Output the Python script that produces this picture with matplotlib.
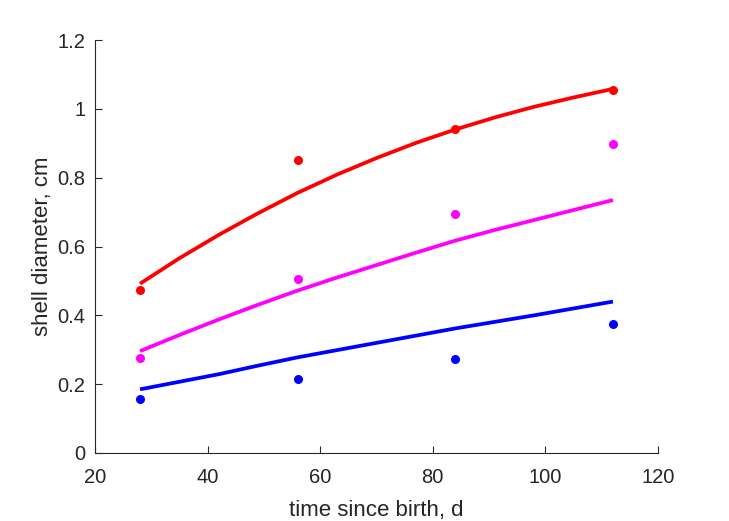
import matplotlib
matplotlib.use("Agg")
import matplotlib.pyplot as plt

# Measured shell diameters (cm) at each age (d)
t_obs = [28, 56, 84, 112]
red_obs = [0.473, 0.850, 0.941, 1.054]
magenta_obs = [0.277, 0.506, 0.693, 0.899]
blue_obs = [0.156, 0.214, 0.272, 0.374]

# Fitted growth curves
t_fit = [28, 35, 42, 49, 56, 63, 70, 77, 84, 91, 98, 105, 112]
red_fit = [0.492, 0.566, 0.634, 0.697, 0.756, 0.809, 0.857,
           0.901, 0.940, 0.975, 1.006, 1.033, 1.058]
magenta_fit = [0.296, 0.343, 0.388, 0.431, 0.472, 0.510, 0.546,
               0.582, 0.617, 0.648, 0.677, 0.706, 0.735]
blue_fit = [0.185, 0.207, 0.229, 0.254, 0.278, 0.299, 0.320,
            0.341, 0.362, 0.381, 0.400, 0.420, 0.440]

xticks = [20, 40, 60, 80, 100, 120]
yticks = [0, 0.2, 0.4, 0.6, 0.8, 1.0, 1.2]
yticklabels = ["0", "0.2", "0.4", "0.6", "0.8", "1", "1.2"]

plt.rcParams["font.family"] = ["Liberation Sans", "DejaVu Sans"]
axcol = (0.15, 0.15, 0.15)

fig = plt.figure(figsize=(7.29, 5.21), dpi=100)
ax = fig.add_axes([95 / 729, 68 / 521, 563 / 729, 413 / 521])

series = [(red_obs, red_fit, (1, 0, 0)),
          (magenta_obs, magenta_fit, (1, 0, 1)),
          (blue_obs, blue_fit, (0, 0, 1))]
for obs, fit, c in series:
    ax.plot(t_obs, obs, "o", color=c, markersize=6.5, markeredgewidth=0)
    ax.plot(t_fit, fit, "-", color=c, linewidth=2.7,
            solid_capstyle="butt", solid_joinstyle="round")

ax.set_xlim(20, 120)
ax.set_ylim(0, 1.2)
ax.set_xticks(xticks)
ax.set_yticks(yticks)
ax.set_yticklabels(yticklabels)

for s in ["top", "right"]:
    ax.spines[s].set_visible(False)
for s in ["left", "bottom"]:
    ax.spines[s].set_color(axcol)
    ax.spines[s].set_linewidth(0.8)
ax.tick_params(direction="in", length=5, width=0.8, color=axcol,
               labelcolor=axcol, labelsize=14.5)
ax.tick_params(axis="x", pad=10.5)
ax.tick_params(axis="y", pad=7)

ax.set_xlabel("time since birth, d", fontsize=16, color=axcol, labelpad=10)
ax.set_ylabel("shell diameter, cm", fontsize=16, color=axcol, labelpad=3)

fig.savefig("out.png", dpi=100)
